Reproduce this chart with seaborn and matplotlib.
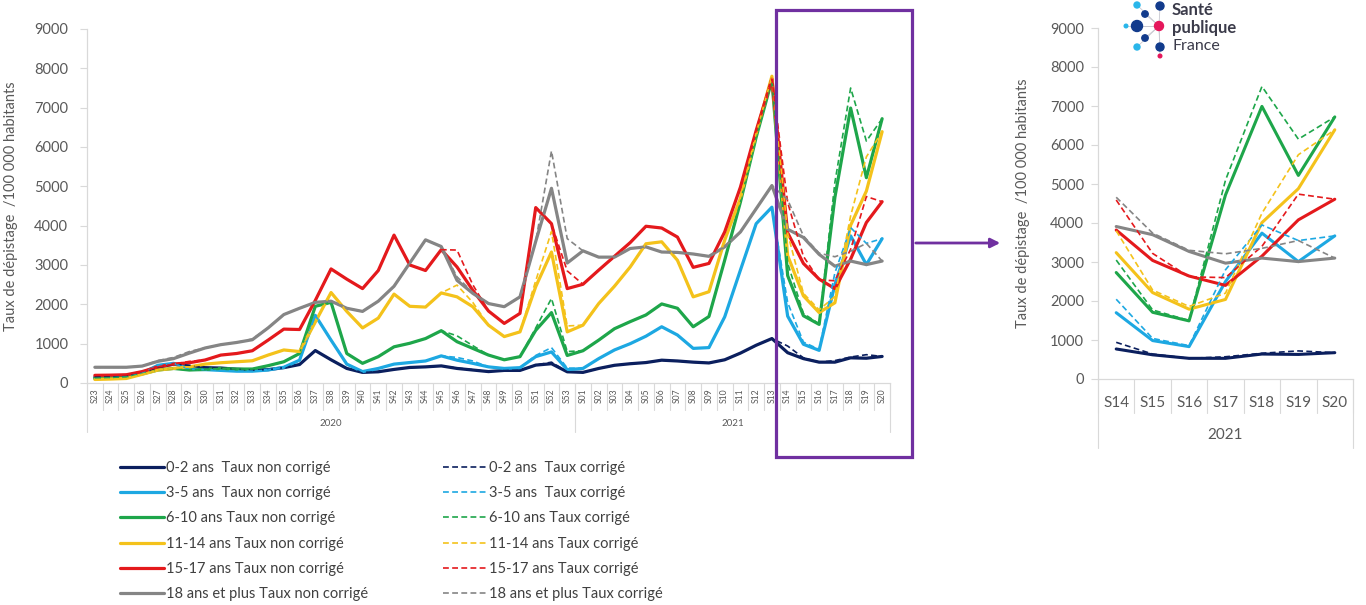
import numpy as np
import matplotlib
matplotlib.use("Agg")
import matplotlib.pyplot as plt
import seaborn as sns
from matplotlib.lines import Line2D
from matplotlib.patches import Rectangle, FancyArrowPatch

# ---------------- data ----------------
weeks = ["S23", "S24", "S25", "S26", "S27", "S28", "S29", "S30", "S31", "S32", "S33",
         "S34", "S35", "S36", "S37", "S38", "S39", "S40", "S41", "S42", "S43", "S44",
         "S45", "S46", "S47", "S48", "S49", "S50", "S51", "S52", "S53",
         "S01", "S02", "S03", "S04", "S05", "S06", "S07", "S08", "S09", "S10",
         "S11", "S12", "S13", "S14", "S15", "S16", "S17", "S18", "S19", "S20"]
years = ["2020", "2021"]
year_len = [31, 20]

a02_nc = [150, 150, 170, 260, 400, 480, 420, 390, 380, 350, 330, 340, 390, 470, 825, 590, 370,
          270, 285, 345, 395, 410, 435, 370, 330, 290, 320, 320, 455, 490, 285,
          270, 370, 450, 490, 520, 580, 560, 530, 510, 590, 760, 960, 1130,
          770, 620, 530, 530, 640, 630, 675]
a02_c = [150, 150, 170, 260, 400, 480, 450, 390, 380, 350, 330, 340, 390, 470, 825, 590, 370,
         270, 285, 345, 395, 410, 435, 380, 340, 290, 320, 320, 455, 530, 285,
         270, 370, 450, 490, 520, 580, 560, 530, 510, 590, 760, 960, 1130,
         940, 640, 530, 570, 660, 720, 675]
a35_nc = [110, 130, 150, 250, 450, 500, 350, 340, 320, 300, 300, 330, 400, 580, 1720, 1090, 480,
          290, 370, 480, 520, 560, 690, 580, 500, 410, 370, 390, 670, 790, 340,
          370, 620, 840, 1000, 1190, 1430, 1220, 880, 900, 1680, 2870, 4050, 4470,
          1700, 985, 830, 2500, 3740, 3010, 3670]
a35_c = [110, 130, 150, 250, 450, 500, 350, 340, 320, 300, 300, 330, 400, 580, 1720, 1090, 480,
         290, 370, 480, 520, 560, 690, 650, 560, 410, 370, 390, 700, 900, 380,
         370, 620, 840, 1000, 1190, 1430, 1220, 880, 900, 1680, 2870, 4050, 4470,
         2045, 1040, 855, 2800, 3950, 3550, 3670]
a610_nc = [120, 130, 150, 230, 330, 370, 330, 345, 370, 355, 355, 440, 540, 750, 1950, 2050, 750,
           500, 670, 920, 1010, 1130, 1330, 1050, 880, 710, 590, 670, 1340, 1790, 700,
           820, 1090, 1380, 1560, 1730, 2010, 1900, 1430, 1690, 3120, 4600, 6250, 7700,
           2730, 1710, 1490, 4720, 6990, 5220, 6720]
a610_c = [120, 130, 150, 230, 330, 370, 330, 345, 370, 355, 355, 440, 540, 750, 1950, 2050, 750,
          500, 670, 920, 1010, 1130, 1330, 1200, 950, 710, 590, 670, 1400, 2150, 800,
          820, 1090, 1380, 1560, 1730, 2010, 1900, 1430, 1690, 3120, 4600, 6250, 7700,
          3050, 1770, 1500, 5100, 7500, 6150, 6720]
a1114_nc = [90, 100, 115, 220, 330, 370, 410, 480, 515, 540, 565, 710, 840, 800, 1550, 2300, 1820,
            1400, 1650, 2260, 1950, 1930, 2290, 2190, 1940, 1470, 1180, 1300, 2450, 3330, 1300,
            1470, 2020, 2460, 2950, 3540, 3590, 3120, 2190, 2320, 3630, 4700, 6350, 7800,
            3240, 2215, 1790, 2040, 4010, 4880, 6390]
a1114_c = [90, 100, 115, 220, 330, 370, 410, 480, 515, 540, 565, 710, 840, 800, 1550, 2300, 1820,
           1400, 1650, 2260, 1950, 1930, 2290, 2490, 2050, 1470, 1180, 1300, 2600, 3850, 1450,
           1470, 2020, 2460, 2950, 3540, 3590, 3120, 2190, 2320, 3630, 4700, 6350, 7800,
           3800, 2280, 1860, 2200, 4250, 5750, 6390]
a1517_nc = [195, 200, 210, 290, 410, 480, 515, 585, 710, 750, 820, 1090, 1370, 1360, 2100, 2900, 2640,
            2400, 2860, 3760, 3000, 2860, 3390, 2950, 2360, 1830, 1515, 1770, 4460, 4050, 2400,
            2510, 2870, 3220, 3570, 3985, 3940, 3710, 2940, 3040, 3840, 4980, 6420, 7730,
            3820, 3040, 2640, 2400, 3150, 4080, 4610]
a1517_c = [195, 200, 210, 290, 410, 480, 550, 585, 710, 750, 820, 1090, 1370, 1360, 2100, 2900, 2640,
           2400, 2860, 3760, 3000, 2860, 3390, 3380, 2500, 1830, 1515, 1770, 4460, 4050, 2850,
           2510, 2870, 3220, 3570, 3985, 3940, 3710, 2940, 3040, 3840, 4980, 6420, 7730,
           4590, 3220, 2620, 2600, 3400, 4740, 4610]
a18_nc = [400, 400, 400, 430, 550, 620, 760, 890, 975, 1030, 1100, 1400, 1740, 1900, 2050, 2080, 1900,
          1820, 2080, 2460, 3050, 3640, 3470, 2610, 2280, 2020, 1940, 2190, 3600, 4950, 3050,
          3360, 3200, 3200, 3420, 3460, 3330, 3320, 3280, 3220, 3460, 3840, 4430, 5020,
          3910, 3700, 3270, 2970, 3100, 3010, 3100]
a18_c = [400, 400, 400, 430, 570, 650, 800, 890, 975, 1030, 1120, 1400, 1740, 1900, 2050, 2080, 1900,
         1820, 2080, 2460, 3050, 3640, 3470, 2700, 2300, 2020, 1940, 2190, 3600, 5900, 3670,
         3360, 3200, 3200, 3420, 3460, 3330, 3320, 3280, 3220, 3460, 3840, 4430, 5020,
         4660, 3740, 3300, 3210, 3350, 3550, 3100]

groups = ["0-2 ans ", "3-5 ans ", "6-10 ans", "11-14 ans", "15-17 ans", "18 ans et plus"]
colors = ["#0B1F5E", "#1DA8E2", "#1EA64A", "#F4C21B", "#E4191C", "#858585"]
uncorrected = [a02_nc, a35_nc, a610_nc, a1114_nc, a1517_nc, a18_nc]
corrected = [a02_c, a35_c, a610_c, a1114_c, a1517_c, a18_c]

# ---------------- style ----------------
sns.set_theme(style="white")
plt.rcParams["font.family"] = ["Lato", "DejaVu Sans"]
TXT = "#595959"
AXC = "#D9D9D9"

W, H = 1366, 605
fig = plt.figure(figsize=(W / 100, H / 100), dpi=100)
fig.patch.set_facecolor("white")


def px_axes(l, r, b, t):
    return fig.add_axes([l / W, 1 - b / H, (r - l) / W, (b - t) / H])


ax = px_axes(87, 890, 383, 29)
axr = px_axes(1098, 1353, 379, 28)

x_all = np.arange(len(weeks))
zoom_start = weeks.index("S14")
x_zoom = np.arange(len(weeks) - zoom_start)

for target, xs, sl in [(ax, x_all, slice(0, None)), (axr, x_zoom, slice(zoom_start, None))]:
    lw_s = 2.3 if target is ax else 2.2
    for vals, col in zip(uncorrected, colors):
        sns.lineplot(x=xs, y=np.array(vals)[sl], ax=target, color=col, lw=lw_s,
                     legend=False, zorder=3)
    for vals, col in zip(corrected, colors):
        sns.lineplot(x=xs, y=np.array(vals)[sl], ax=target, color=col, lw=1.2,
                     linestyle=(0, (3.5, 2)), legend=False, zorder=4)


def style_axes(a, labels, n, wk_fs, wk_rot, wk_pad, sep_len, ylabel_x, ypad):
    a.set_xlim(-0.5, n - 0.5)
    a.set_ylim(0, 9000)
    a.set_yticks(np.arange(0, 9001, 1000))
    a.set_yticklabels([str(v) for v in range(0, 9001, 1000)], fontsize=10.5, color=TXT)
    a.set_xticks(np.arange(n))
    a.set_xticklabels(labels, fontsize=wk_fs, rotation=wk_rot, color=TXT)
    a.tick_params(axis="x", length=0, pad=wk_pad)
    a.tick_params(axis="y", length=5, width=0.8, color=AXC, pad=ypad, left=True)
    for s in ["top", "right"]:
        a.spines[s].set_visible(False)
    for s in ["left", "bottom"]:
        a.spines[s].set_color(AXC)
        a.spines[s].set_linewidth(0.9)
    a.set_ylabel("Taux de dépistage  /100 000 habitants", fontsize=10.5, color=TXT)
    a.yaxis.set_label_coords(ylabel_x, 0.5)
    tr = a.get_xaxis_transform()
    for b in np.arange(n + 1) - 0.5:
        a.plot([b, b], [0, -sep_len], transform=tr, color=AXC, lw=0.8, clip_on=False)
    return tr


# main axes
tr = style_axes(ax, weeks, len(weeks), 6.2, 90, 4, 27 / 354, -0.086, 8.5)
start = -0.5
for yr, ln in zip(years, year_len):
    ax.plot([start, start], [0, -49 / 354], transform=tr, color=AXC, lw=0.8, clip_on=False)
    ax.text(start + ln / 2, -40 / 354, yr, transform=tr, ha="center", va="center",
            fontsize=7, color=TXT)
    start += ln
ax.plot([start, start], [0, -49 / 354], transform=tr, color=AXC, lw=0.8, clip_on=False)

# zoom axes
zlabels = weeks[zoom_start:]
trr = style_axes(axr, zlabels, len(zlabels), 11, 0, 12, 34 / 351, -0.267, 5)
for b in [-0.5, len(zlabels) - 0.5]:
    axr.plot([b, b], [0, -69 / 351], transform=trr, color=AXC, lw=0.8, clip_on=False)
axr.text((len(zlabels) - 1) / 2, -56 / 351, "2021", transform=trr, ha="center",
         va="center", fontsize=11, color=TXT)

# ---------------- legends ----------------
solid_h = [Line2D([], [], color=c, lw=2.3) for c in colors]
dash_h = [Line2D([], [], color=c, lw=1.2, linestyle=(0, (3.5, 2))) for c in colors]
solid_l = [f"{g} Taux non corrigé" for g in groups]
dash_l = [f"{g} Taux corrigé" for g in groups]
common = dict(loc="upper left", frameon=False, fontsize=10.5, handlelength=3.0,
              handletextpad=0.15, labelspacing=0.77, borderpad=0, borderaxespad=0,
              labelcolor="#404040")
fig.legend(solid_h, solid_l, bbox_to_anchor=(120 / W, 1 - 461 / H), **common)
fig.legend(dash_h, dash_l, bbox_to_anchor=(443 / W, 1 - 461 / H), **common)

# ---------------- overlay decorations ----------------
ov = fig.add_axes([0, 0, 1, 1], facecolor="none")
ov.set_xlim(0, W)
ov.set_ylim(H, 0)
ov.axis("off")
purple = "#7030A0"
ov.add_patch(Rectangle((776, 10), 136, 447, fill=False, edgecolor=purple, lw=2.3))
ov.add_patch(FancyArrowPatch((913, 243), (1003, 243), arrowstyle="-|>",
                             mutation_scale=14, color=purple, lw=2))

# logo
center = (1159, 26)
dots = [((1137, 5), 3.0, "#29B6EA"), ((1160, 6), 4.0, "#123B8C"), ((1145, 14), 3.2, "#123B8C"),
        ((1126, 26), 1.8, "#29B6EA"), ((1137, 26), 5.5, "#123B8C"), ((1145, 38), 3.2, "#123B8C"),
        ((1137, 47), 3.0, "#29B6EA"), ((1160, 47), 4.0, "#123B8C"), ((1160, 56), 1.8, "#E5175B")]
for (px, py), r, c in dots:
    ov.plot([center[0], px], [center[1], py], color="#C8C8D0", lw=0.6, zorder=1)
for (px, py), r, c in dots:
    ov.add_patch(matplotlib.patches.Circle((px, py), r, color=c, zorder=2))
ov.add_patch(matplotlib.patches.Circle(center, 4.5, color="#E5175B", zorder=2))
ov.text(1172, 10, "Santé", fontsize=12, fontweight="bold", color="#3B3B4A", va="center", ha="left")
ov.text(1172, 28, "publique", fontsize=12, fontweight="bold", color="#3B3B4A", va="center", ha="left")
ov.text(1172, 46, "France", fontsize=11.5, color="#3B3B4A", va="center", ha="left")

fig.savefig("out.png", dpi=100)
